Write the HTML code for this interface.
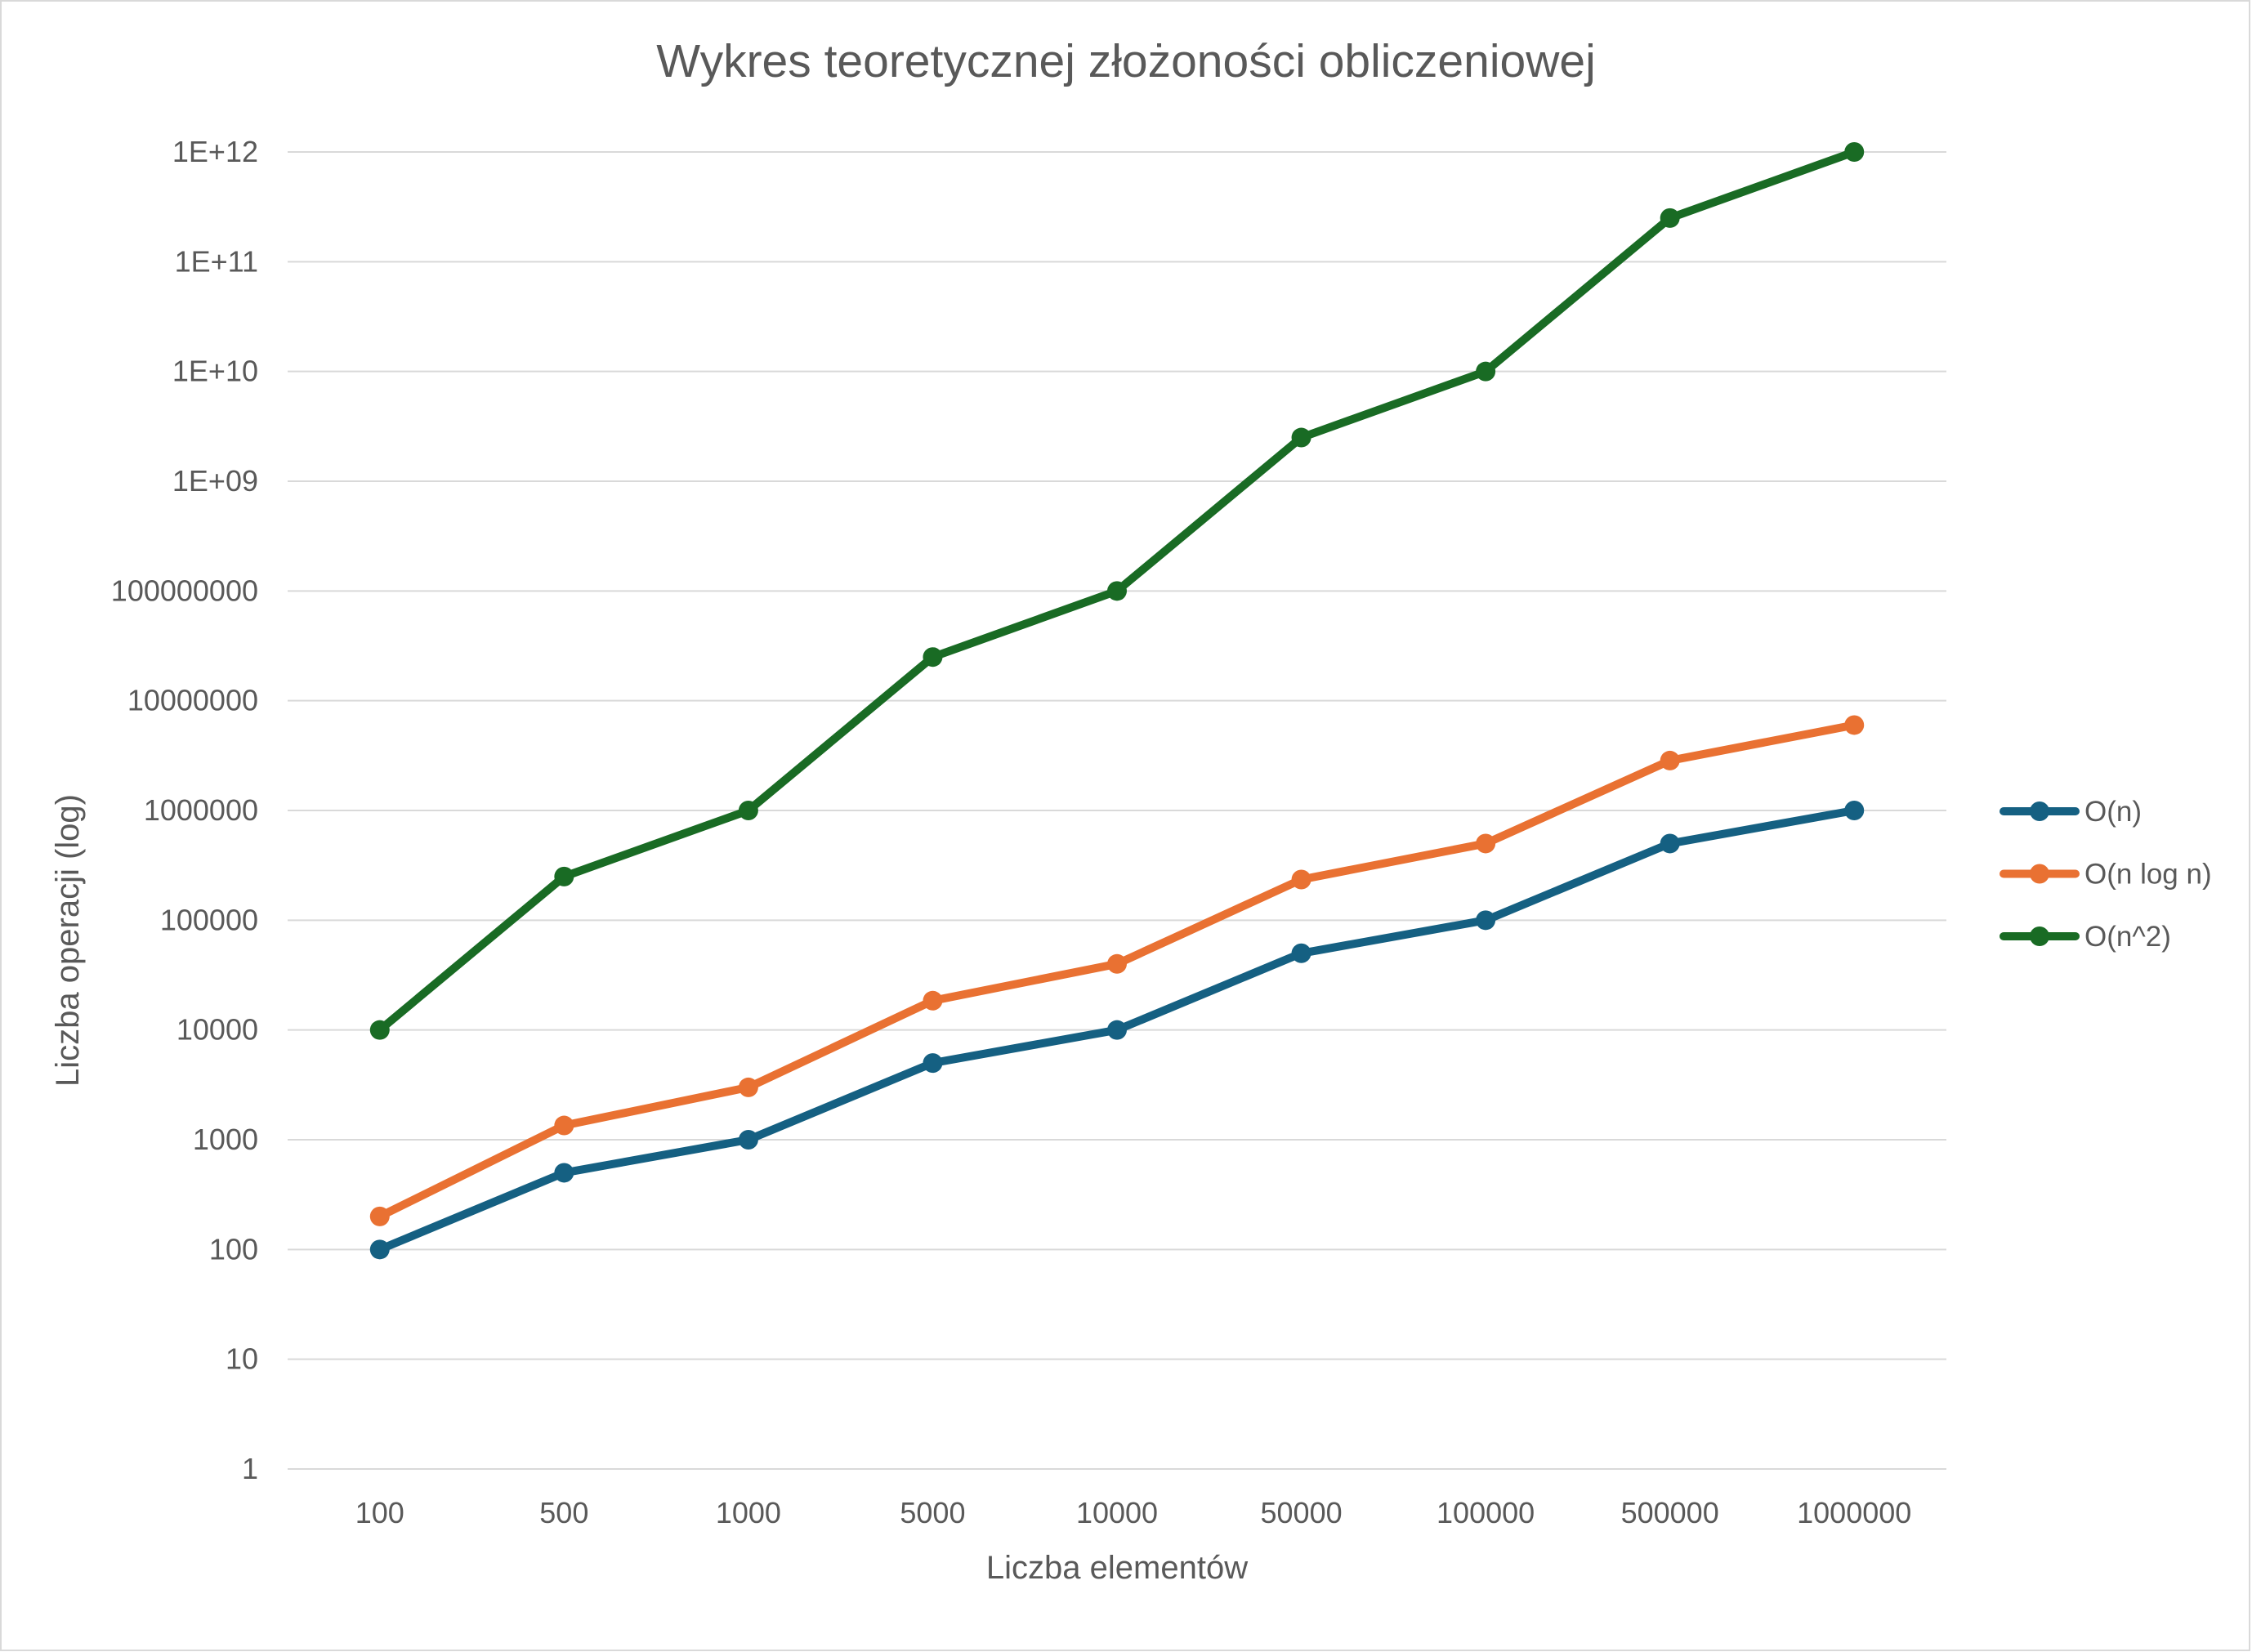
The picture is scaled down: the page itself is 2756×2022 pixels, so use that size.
<!DOCTYPE html>
<html><head><meta charset="utf-8"><style>
html,body{margin:0;padding:0;background:#fff}
svg{display:block}
text{font-family:"Liberation Sans",sans-serif;fill:#595959}
</style></head><body>
<svg id="chart" width="2756" height="2022" viewBox="0 0 2756 2022">
<rect x="1" y="1" width="2752" height="2019" fill="#fff" stroke="#d9d9d9" stroke-width="2"/>
<text x="1378" y="94" font-size="57" text-anchor="middle">Wykres teoretycznej złożoności obliczeniowej</text>
<g id="grid"></g><g id="series"></g><g id="legend"></g>
<text x="1367" y="1932" font-size="40" text-anchor="middle">Liczba elementów</text>
<text transform="translate(96,1151) rotate(-90)" font-size="40" text-anchor="middle">Liczba operacji (log)</text>
</svg>
<script>
const categories=["100","500","1000","5000","10000","50000","100000","500000","1000000"];
const seriesN=[100,500,1000,5000,10000,50000,100000,500000,1000000];
const seriesNlogN=[200,1349,3000,18495,40000,234949,500000,2849485,6000000];
const seriesN2=[1e4,2.5e5,1e6,2.5e7,1e8,2.5e9,1e10,2.5e11,1e12];
const yTicks=["1","10","100","1000","10000","100000","1000000","10000000","100000000","1E+09","1E+10","1E+11","1E+12"];
const seriesNames=["O(n)","O(n log n)","O(n^2)"];
const seriesColors=["#156082","#E97132","#196B24"];
const NS="http://www.w3.org/2000/svg";
const L=352,R=2382,T=186,B=1798;
const band=(R-L)/categories.length;
function xS(i){return L+(i+0.5)*band;}
function yS(v){return B-(Math.log10(v)/12)*(B-T);}
function mk(tag,attrs,parent){const e=document.createElementNS(NS,tag);for(const k in attrs)e.setAttribute(k,attrs[k]);parent.appendChild(e);return e;}
const grid=document.getElementById('grid');
yTicks.forEach((t,i)=>{const y=yS(Math.pow(10,i));
const l=mk('line',{x1:L,x2:R,y1:y,y2:y,stroke:'#d9d9d9','stroke-width':2},grid);


const tx=mk('text',{x:316,y:y+12,'font-size':36,'text-anchor':'end'},grid);tx.textContent=t;

});
categories.forEach((c,i)=>{const tx=mk('text',{x:xS(i),y:1864,'font-size':36,'text-anchor':'middle'},grid);tx.textContent=c;

});
const sg=document.getElementById('series');
[seriesN,seriesNlogN,seriesN2].forEach((s,k)=>{
const g=mk('g',{},sg);


const p=mk('polyline',{points:s.map((v,i)=>xS(i)+','+yS(v)).join(' '),fill:'none',stroke:seriesColors[k],'stroke-width':10,'stroke-linejoin':'round','stroke-linecap':'round'},g);


s.forEach((v,i)=>{const c=mk('circle',{cx:xS(i),cy:yS(v),r:12,fill:seriesColors[k]},g);

});
});
const lg=document.getElementById('legend');
seriesNames.forEach((n,k)=>{const y=993+k*76.5;
const g=mk('g',{},lg);


mk('line',{x1:2452,x2:2540,y1:y,y2:y,stroke:seriesColors[k],'stroke-width':10,'stroke-linecap':'round'},g);
mk('circle',{cx:2496,cy:y,r:12,fill:seriesColors[k]},g);
const t=mk('text',{x:2551,y:y+12,'font-size':35},g);t.textContent=n;});
</script>
</body></html>
